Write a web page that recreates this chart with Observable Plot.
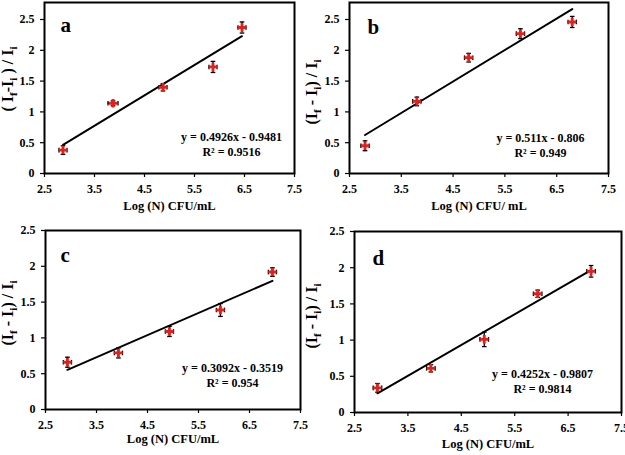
<!DOCTYPE html>
<html><head><meta charset="utf-8">
<script src="https://cdn.jsdelivr.net/npm/d3@7"></script>
<script src="https://cdn.jsdelivr.net/npm/@observablehq/plot@0.6"></script>
<style>
body{margin:0;background:#fff;}
#wrap{position:relative;width:625px;height:455px;overflow:hidden;background:#fff;}
.p{position:absolute;}
.p svg{overflow:visible;}
</style></head><body><div id="wrap"></div>
<script>
// ---- data ----
const xTicks = [2.5, 3.5, 4.5, 5.5, 6.5, 7.5];
const yTicks = [0, 0.5, 1, 1.5, 2, 2.5];
const letters = ["a", "b", "c", "d"];
const xTitles = ["Log (N) CFU/mL", "Log (N) CFU/ mL", "Log (N) CFU/mL", "Log (N) CFU/mL"];

const xA = [2.87, 3.87, 4.87, 5.87, 6.45];
const yA = [0.38, 1.14, 1.40, 1.73, 2.37];
const yErrA = [0.07, 0.04, 0.06, 0.09, 0.09];
const xErrA = [0.08, 0.1, 0.08, 0.08, 0.08];

const xB = [2.8, 3.8, 4.8, 5.8, 6.8];
const yB = [0.45, 1.17, 1.88, 2.27, 2.46];
const yErrB = [0.08, 0.07, 0.07, 0.08, 0.09];
const xErrB = [0.08, 0.08, 0.08, 0.08, 0.08];

const xC = [2.93, 3.93, 4.93, 5.93, 6.95];
const yC = [0.66, 0.79, 1.09, 1.39, 1.92];
const yErrC = [0.07, 0.07, 0.07, 0.09, 0.06];
const xErrC = [0.08, 0.08, 0.08, 0.08, 0.08];

const xD = [2.93, 3.93, 4.93, 5.93, 6.93];
const yD = [0.34, 0.61, 1.01, 1.64, 1.95];
const yErrD = [0.06, 0.05, 0.1, 0.05, 0.08];
const xErrD = [0.08, 0.08, 0.08, 0.08, 0.08];

const slopes = [0.4926, 0.511, 0.3092, 0.4252];
const intercepts = [-0.9481, -0.806, -0.3519, -0.9807];
const equations = ["y = 0.4926x - 0.9481", "y = 0.511x - 0.806", "y = 0.3092x - 0.3519", "y = 0.4252x - 0.9807"];
const r2Texts = ["R² = 0.9516", "R² = 0.949", "R² = 0.954", "R² = 0.9814"];

// y-axis titles as [text, isSubscript] segments
const yTitleA = [["( I", 0], ["f", 1], ["-I", 0], ["i", 1], [" ) / I", 0], ["i", 1]];
const yTitleB = [["(I", 0], ["f", 1], [" - I", 0], ["i", 1], [") / I", 0], ["i", 1]];
const yTitles = [yTitleA, yTitleB, yTitleB, yTitleB];

const series = [
  [xA, yA, xErrA, yErrA],
  [xB, yB, xErrB, yErrB],
  [xC, yC, xErrC, yErrC],
  [xD, yD, xErrD, yErrD]
];

// ---- layout (positions/styles) ----
const layout = [
  {left: 0, top: 0, w: 305, h: 222, mt: 2, mr: 11, mb: 49, ml: 44, ymax: 2.776, eqDx: -63, eqDy: -29.5, letDx: 16, letDy: 15, ylX: 13, ylC: 79, xtDy: 36},
  {left: 310, top: 0, w: 315, h: 222, mt: 2, mr: 17, mb: 49, ml: 39, ymax: 2.776, eqDx: -68, eqDy: -28.5, letDx: 18, letDy: 17, ylX: 7, ylC: 92, xtDy: 36},
  {left: 0, top: 228, w: 310, h: 227, mt: 2, mr: 10, mb: 46, ml: 45, ymax: 2.5, eqDx: -68, eqDy: -35, letDx: 15, letDy: 17, ylX: 13, ylC: 85, xtDy: 33},
  {left: 310, top: 228, w: 315, h: 227, mt: 3, mr: 4, mb: 43, ml: 44, ymax: 2.5, eqDx: -79, eqDy: -31.5, letDx: 18, letDy: 19, ylX: 7, ylC: 88, xtDy: 35}
];

const capH = {draw(c, s) { const r = Math.sqrt(s) / 2; c.moveTo(-r, 0); c.lineTo(r, 0); }};
const capV = {draw(c, s) { const r = Math.sqrt(s) / 2; c.moveTo(0, -r); c.lineTo(0, r); }};
const FONT = "'Liberation Serif', 'Times New Roman', serif";
const wrap = document.getElementById("wrap");
const PLACEHOLDER = "(If - Ii) / Ii";

series.forEach(([xs, ys, xe, ye], k) => {
  const L = layout[k];
  const pts = xs.map((x, i) => ({x, y: ys[i], xe: xe[i], ye: ye[i]}));
  const x0 = d3.min(xs), x1 = d3.max(xs);
  const fit = [x0, x1].map(x => ({x, y: slopes[k] * x + intercepts[k]}));

  const chart = Plot.plot({
    width: L.w, height: L.h,
    marginTop: L.mt, marginRight: L.mr, marginBottom: L.mb, marginLeft: L.ml,
    style: {fontFamily: FONT, fontSize: "12px", fontWeight: "bold", color: "black", background: "transparent"},
    x: {domain: [2.5, 7.5]},
    y: {domain: [0, L.ymax]},
    marks: [
      Plot.axisX(xTicks, {tickSize: 4, tickPadding: 7, tickFormat: d => d.toFixed(1), label: null, strokeWidth: 1.2}),
      Plot.axisY(yTicks, {tickSize: 4, tickPadding: 6, tickFormat: d => String(d), label: null, strokeWidth: 1.2}),
      Plot.line(fit, {x: "x", y: "y", stroke: "black", strokeWidth: 2}),
      Plot.ruleX(pts, {x: "x", y1: d => d.y - d.ye, y2: d => d.y + d.ye, stroke: "black", strokeWidth: 1.3}),
      Plot.ruleY(pts, {y: "y", x1: d => d.x - d.xe, x2: d => d.x + d.xe, stroke: "black", strokeWidth: 1.3}),
      Plot.dot(pts, {x: "x", y: d => d.y + d.ye, symbol: capH, r: 2.6, stroke: "black", strokeWidth: 1.3}),
      Plot.dot(pts, {x: "x", y: d => d.y - d.ye, symbol: capH, r: 2.6, stroke: "black", strokeWidth: 1.3}),
      Plot.dot(pts, {x: d => d.x - d.xe, y: "y", symbol: capV, r: 2.6, stroke: "black", strokeWidth: 1.3}),
      Plot.dot(pts, {x: d => d.x + d.xe, y: "y", symbol: capV, r: 2.6, stroke: "black", strokeWidth: 1.3}),
      Plot.dot(pts, {x: "x", y: "y", symbol: "cross", r: 3.6, fill: "#e3211c", stroke: null}),
      Plot.frame({stroke: "black", strokeWidth: 2}),
      Plot.text([letters[k]], {frameAnchor: "top-left", text: d => d, dx: L.letDx, dy: L.letDy, fontSize: 21, fontWeight: "bold", fill: "black"}),
      Plot.text([equations[k] + "\n" + r2Texts[k]], {frameAnchor: "bottom-right", text: d => d, dx: L.eqDx, dy: L.eqDy, textAnchor: "middle", lineAnchor: "middle", lineHeight: 1.25, fontSize: 12, fontWeight: "bold", fill: "black"}),
      Plot.text([xTitles[k]], {frameAnchor: "bottom", text: d => d, dy: L.xtDy, fontSize: 12.5, fontWeight: "bold", fill: "black"}),
      Plot.text([PLACEHOLDER], {frameAnchor: "left", text: d => d, rotate: -90, fontSize: 16, fontWeight: "bold", fill: "black"})
    ]
  });

  // rebuild the y title with subscripts, placed explicitly in the SVG
  const t = d3.select(chart).selectAll("text").filter(function () { return this.textContent === PLACEHOLDER; });
  const node = t.node();
  if (node) {
    chart.appendChild(node);
    ["x", "y", "dx", "dy"].forEach(a => node.removeAttribute(a));
    const sel = d3.select(node)
      .attr("transform", `translate(${L.ylX},${L.ylC}) rotate(-90)`)
      .attr("text-anchor", "middle")
      .attr("font-size", 16)
      .attr("font-weight", "bold")
      .attr("fill", "black")
      .text(null);
    yTitles[k].forEach(([s, sub], i) => {
      const prevSub = i > 0 && yTitles[k][i - 1][1];
      const ts = sel.append("tspan").text(s);
      if (sub) ts.attr("dy", 4).attr("font-size", 11);
      else if (prevSub) ts.attr("dy", -4);
    });
  }

  const div = document.createElement("div");
  div.className = "p";
  div.style.left = L.left + "px";
  div.style.top = L.top + "px";
  div.appendChild(chart);
  wrap.appendChild(div);
});
</script></body></html>
